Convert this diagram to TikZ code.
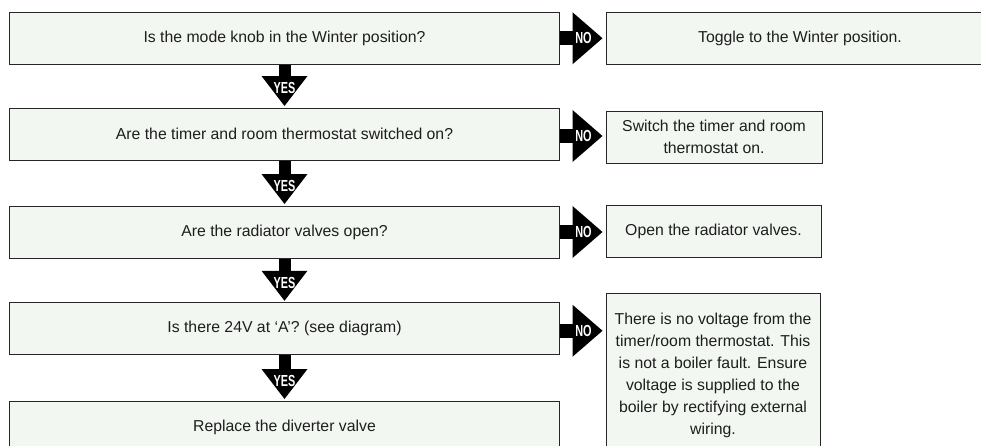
\documentclass[tikz,border=0pt]{standalone}
\usepackage{fontspec}
\setmainfont{Liberation Sans}
\newfontfamily\tagfont{Liberation Sans}[FakeStretch=0.68]
\usetikzlibrary{arrows.meta}
\definecolor{chartFill}{HTML}{F3F7F2}
\definecolor{chartLine}{HTML}{262626}
\definecolor{chartText}{HTML}{1E1E1E}

\begin{document}
\begin{tikzpicture}[
  x=1pt, y=1pt,
  font=\fontsize{15.8}{22}\selectfont, text=chartText,
  question/.style={draw=chartLine, line width=1pt, fill=chartFill, minimum width=550pt,
                   minimum height=52pt, inner sep=0pt, align=center},
  action/.style={draw=chartLine, line width=1pt, fill=chartFill, minimum height=52pt,
                 inner sep=0pt, align=center},
  tag/.style={font=\tagfont\bfseries\fontsize{16}{16}\selectfont, text=white, inner sep=0pt},
  yesarrow/.style={line width=12pt, -{Triangle[length=30pt, width=46pt, line width=0pt]}, shorten >=1.5pt},
  noarrow/.style={line width=14pt, -{Triangle[length=30pt, width=52pt, line width=0pt]}, shorten >=3pt}
]
\useasboundingbox (0,0) rectangle (981,-445);

\node[question] (winter) at (284.5,-38.25) {Is the mode knob in the Winter position?};
\node[question] (timer) at (284.5,-134) {Are the timer and room thermostat switched on?};
\node[question] (valves) at (284.5,-232) {Are the radiator valves open?};
\node[question] (volts) at (284.5,-328.75) {Is there 24V at `A'? (see diagram)};
\node[question] (diverter) at (284.5,-427) {Replace the diverter valve};

\node[action, minimum width=388pt] (toggle) at (800,-38.25) {Toggle to the Winter position.};
\node[action, minimum width=216pt] (switchon) at (714,-137) {Switch the timer and room\\thermostat on.};
\node[action, minimum width=215pt] (openvalves) at (713.5,-231) {Open the radiator valves.};
\node[action, minimum width=214pt, minimum height=164pt] (novolt) at (713,-375)
  {There is no voltage from the\\timer/room thermostat. This\\is not a boiler fault. Ensure\\voltage is supplied to the\\boiler by rectifying external\\wiring.};

% yes: straight down to the next question
\draw[yesarrow] (winter) -- (timer) node[tag, pos=1, yshift=19.5pt] {YES};
\draw[yesarrow] (timer) -- (valves) node[tag, pos=1, yshift=19.5pt] {YES};
\draw[yesarrow] (valves) -- (volts) node[tag, pos=1, yshift=19.5pt] {YES};
\draw[yesarrow] (volts) -- (diverter) node[tag, pos=1, yshift=19.5pt] {YES};

% no: across to the action
\draw[noarrow] (winter.east) -- (winter.east -| toggle.west) node[tag, pos=1, xshift=-22pt] {NO};
\draw[noarrow] ([yshift=-2pt]timer.east) -- ([yshift=-2pt]timer.east -| switchon.west) node[tag, pos=1, xshift=-22pt] {NO};
\draw[noarrow] (valves.east) -- (valves.east -| openvalves.west) node[tag, pos=1, xshift=-22pt] {NO};
\draw[noarrow] ([yshift=-2pt]volts.east) -- ([yshift=-2pt]volts.east -| novolt.west) node[tag, pos=1, xshift=-22pt] {NO};
\end{tikzpicture}
\end{document}
